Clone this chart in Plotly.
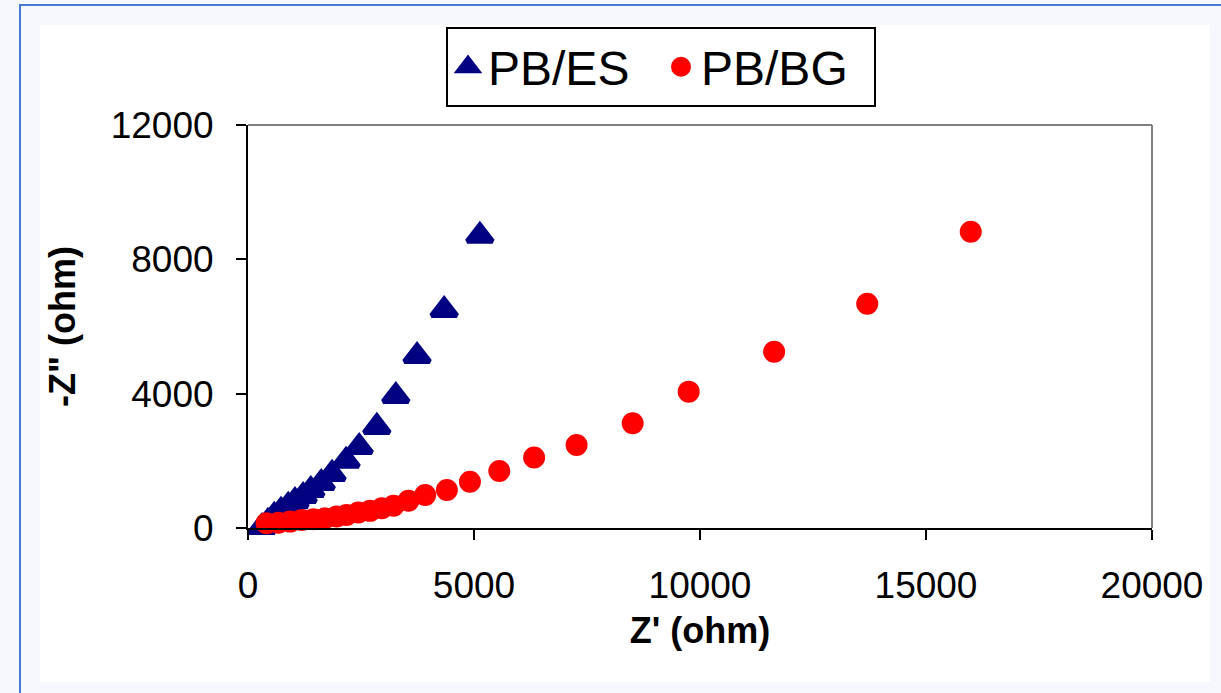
import plotly.graph_objects as go

# PB/ES series (triangles)
es_x = [310, 440, 580, 730, 890, 1040, 1220, 1390, 1620, 1860, 2170, 2460, 2850, 3270, 3740, 4340, 5130]
es_y = [30, 180, 360, 510, 660, 800, 950, 1130, 1340, 1610, 2000, 2410, 3010, 3930, 5120, 6490, 8700]

# PB/BG series (circles)
bg_x = [410, 670, 930, 1190, 1450, 1700, 1960, 2180, 2440, 2700, 2960, 3220, 3550, 3920,
        4400, 4910, 5560, 6330, 7270, 8510, 9750, 11640, 13700, 15990]
bg_y = [140, 160, 190, 240, 260, 290, 340, 390, 460, 510, 590, 660, 810, 980,
        1130, 1380, 1700, 2100, 2470, 3120, 4060, 5250, 6680, 8820]

x_ticks = [0, 5000, 10000, 15000, 20000]
y_ticks = [0, 4000, 8000, 12000]

FONT = "Liberation Sans, Arial, sans-serif"
W, H = 1221, 693
ML, MR, MT, MB = 248, 69, 125, 165
PW, PH = W - ML - MR, H - MT - MB


def px(x):
    return (x - ML) / PW


def py(y):
    return (H - MB - y) / PH


fig = go.Figure()
fig.add_trace(go.Scatter(
    x=es_x, y=es_y, mode="markers", name="PB/ES", cliponaxis=False,
    marker=dict(symbol="triangle-up", size=22, color="#000080",
                line=dict(width=5, color="#000080")),
))
fig.add_trace(go.Scatter(
    x=bg_x, y=bg_y, mode="markers", name="PB/BG", cliponaxis=False,
    marker=dict(symbol="circle", size=18, color="#ff0000",
                line=dict(width=4, color="#ff0000")),
))

shapes = [
    # outer blue frame
    dict(type="rect", xref="paper", yref="paper", x0=px(20), x1=px(1240), y0=py(712), y1=py(5),
         line=dict(color="#4a7bd4", width=2), fillcolor="#f5f8fc", layer="below"),
    # inner white chart area
    dict(type="rect", xref="paper", yref="paper", x0=px(40), x1=px(1210), y0=py(682), y1=py(25),
         line=dict(width=0), fillcolor="white", layer="below"),
    # gray top and right plot border
    dict(type="line", xref="paper", yref="paper", x0=0, x1=1, y0=1, y1=1,
         line=dict(color="#808080", width=2)),
    dict(type="line", xref="paper", yref="paper", x0=1, x1=1, y0=0, y1=1,
         line=dict(color="#808080", width=2)),
]

fig.update_layout(
    width=W, height=H,
    margin=dict(l=ML, r=MR, t=MT, b=MB, autoexpand=False),
    paper_bgcolor="#f5f8fc", plot_bgcolor="white",
    font=dict(family=FONT, color="black"),
    shapes=shapes,
    showlegend=True,
    legend=dict(orientation="h", x=px(661), xanchor="center", y=py(27), yanchor="top",
                bgcolor="white", bordercolor="black", borderwidth=2,
                font=dict(size=48, family=FONT), itemsizing="trace",
                entrywidth=168, tracegroupgap=0),
    xaxis=dict(range=[0, 20000], tickvals=x_ticks, ticktext=[str(v) for v in x_ticks],
               showgrid=False, zeroline=False, showline=True, linecolor="black", linewidth=2,
               ticks="outside", ticklen=10, tickwidth=2, tickcolor="black",
               tickfont=dict(size=37, family=FONT), ticklabelstandoff=14,
               title=dict(text="<b>Z' (ohm)</b>", font=dict(size=36, family=FONT), standoff=12),
               automargin=False),
    yaxis=dict(range=[0, 12000], tickvals=y_ticks, ticktext=[str(v) for v in y_ticks],
               showgrid=False, zeroline=False, showline=True, linecolor="black", linewidth=2,
               ticks="outside", ticklen=10, tickwidth=2, tickcolor="black",
               tickfont=dict(size=37, family=FONT), ticklabelstandoff=15,
               title=dict(text="<b>-Z\" (ohm)</b>", font=dict(size=36, family=FONT), standoff=24),
               automargin=False),
)

fig.write_html("out.html")
